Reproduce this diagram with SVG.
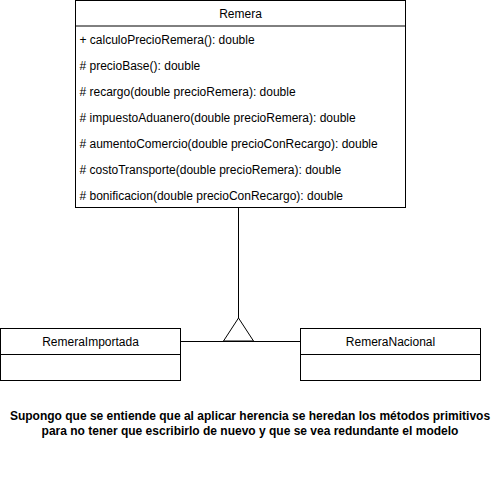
<svg xmlns="http://www.w3.org/2000/svg" width="491" height="479" viewBox="0 0 491 479">
  <style>
    .box { fill: #ffffff; stroke: #000000; stroke-width: 1; }
    .sep { stroke: #000000; stroke-width: 1; fill: none; }
    .t { font-family: "Liberation Sans", Arial, Helvetica, sans-serif; font-size: 12px; fill: #000000; }
    .c { text-anchor: middle; }
    .b { font-weight: bold; }
    .edge { stroke: #000000; stroke-width: 1; fill: none; }
  </style>
  <rect x="0" y="0" width="491" height="479" fill="#ffffff"/>
  <g id="connectors">
    <path class="edge" d="M238.5 208 V318"/>
    <path class="edge" d="M180.5 341.5 H300.5"/>
    <polygon points="238.5,318 223.5,341 253.5,341" fill="#ffffff" stroke="#000000" stroke-width="1"/>
  </g>
  <g id="Remera">
    <rect class="box" x="75.5" y="0.5" width="330" height="207"/>
    <line class="sep" x1="75.5" y1="26" x2="405.5" y2="26"/>
    <text class="t c" x="240.5" y="17.5">Remera</text>
    <text class="t" x="79.5" y="43.5">+ calculoPrecioRemera(): double</text>
    <text class="t" x="79.5" y="69.5"># precioBase(): double</text>
    <text class="t" x="79.5" y="95.5"># recargo(double precioRemera): double</text>
    <text class="t" x="79.5" y="121.5"># impuestoAduanero(double precioRemera): double</text>
    <text class="t" x="79.5" y="147.5"># aumentoComercio(double precioConRecargo): double</text>
    <text class="t" x="79.5" y="173.5"># costoTransporte(double precioRemera): double</text>
    <text class="t" x="79.5" y="199.5"># bonificacion(double precioConRecargo): double</text>
  </g>
  <g id="RemeraImportada">
    <rect class="box" x="0.5" y="328.5" width="180" height="52"/>
    <line class="sep" x1="0.5" y1="354.5" x2="180.5" y2="354.5"/>
    <text class="t c" x="90.5" y="345.5">RemeraImportada</text>
  </g>
  <g id="RemeraNacional">
    <rect class="box" x="300.5" y="328.5" width="180" height="52"/>
    <line class="sep" x1="300.5" y1="354.5" x2="480.5" y2="354.5"/>
    <text class="t c" x="390.5" y="345.5">RemeraNacional</text>
  </g>
  <g id="note">
    <text class="t c b" x="250" y="420">Supongo que se entiende que al aplicar herencia se heredan los métodos primitivos</text>
    <text class="t c b" x="250" y="434.5">para no tener que escribirlo de nuevo y que se vea redundante el modelo</text>
  </g>
</svg>
